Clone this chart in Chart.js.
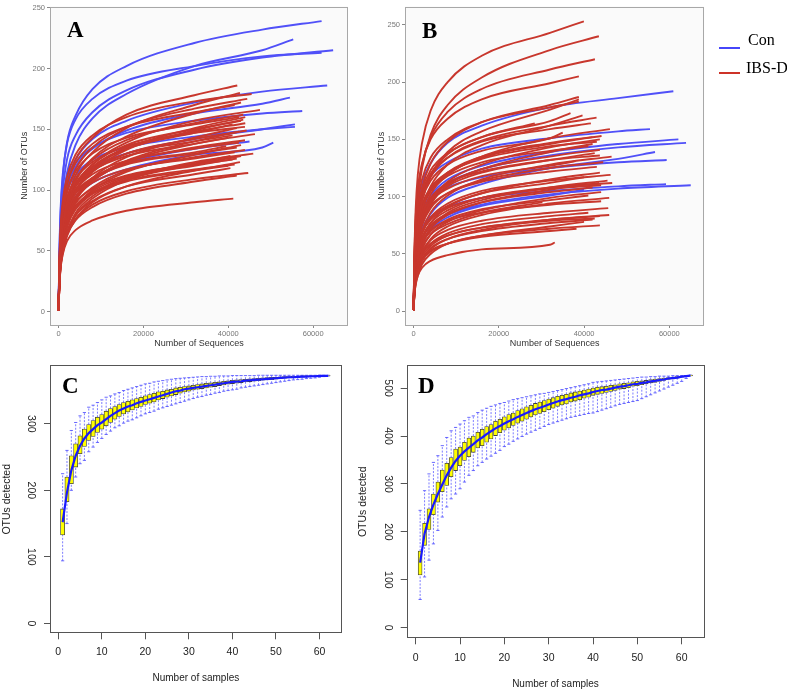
<!DOCTYPE html>
<html><head><meta charset="utf-8">
<script src="https://cdn.jsdelivr.net/npm/chart.js@4.4.1/dist/chart.umd.min.js"></script>
<style>
body{margin:0;background:#fff;}
#wrap{position:relative;width:787px;height:693px;overflow:hidden;background:#fff;}
canvas{position:absolute;}
.lab{position:absolute;font-family:"Liberation Serif","Times New Roman",serif;line-height:1;white-space:nowrap;color:#000;}
.leg{position:absolute;height:2px;width:21px;}
</style></head><body><div id="wrap">
<canvas id="cA" width="360" height="355" style="left:0;top:0"></canvas>
<canvas id="cB" width="360" height="355" style="left:360px;top:0"></canvas>
<canvas id="cC" width="390" height="338" style="left:0;top:355px"></canvas>
<canvas id="cD" width="437" height="338" style="left:350px;top:355px"></canvas>
<div class="lab" style="left:67px;top:17.5px;font-size:23px;font-weight:bold">A</div>
<div class="lab" style="left:422px;top:18.5px;font-size:23px;font-weight:bold">B</div>
<div class="lab" style="left:62px;top:373.5px;font-size:23px;font-weight:bold">C</div>
<div class="lab" style="left:418px;top:374px;font-size:23px;font-weight:bold">D</div>
<div class="leg" style="left:719px;top:47px;background:rgb(70,70,250)"></div>
<div class="lab" style="left:748px;top:31.6px;font-size:16px">Con</div>
<div class="leg" style="left:719px;top:72px;background:rgb(205,50,40)"></div>
<div class="lab" style="left:746px;top:59.6px;font-size:16px">IBS-D</div>
</div>
<script>
// ---------- Panel A / B data (rarefaction curves) ----------
// each curve: y read at the sequence depths in SEQ_GRID that lie below its end depth, then its end value
const SEQ_GRID = [0, 250, 500, 1000, 2000, 4000, 8000, 16000, 32000, 48000];
const SEQ_TICKS = [0, 20000, 40000, 60000];
const OTU_TICKS = [0, 50, 100, 150, 200, 250];

const A_con_endX = [61980, 55300, 64700, 61980, 63300, 54520, 57420, 55700, 55700, 50600, 45000];
const A_con_y = [
 [1,53,81,110,139,161,183,202,221,232,239],
 [1,43,65,90,114,137,159,179,202,215,224],
 [1,47,73,99,125,145,164,182,199,209,215],
 [1,55,85,113,138,158,175,190,202,210,213],
 [1,41,63,86,108,125,142,157,172,181,186],
 [1,39,60,81,102,119,134,149,163,171,176],
 [1,43,66,87,107,122,135,147,157,163,165],
 [1,34,52,71,89,104,118,130,142,150,154],
 [1,40,61,81,99,112,125,135,144,150,152],
 [1,31,47,64,81,94,106,117,129,135,139],
 [1,31,48,63,78,94,108,122,134,140]
];
const A_ibs_endX = [42120,42750,45500,44470,43000,41500,47460,43530,42500,43530,43000,44000,43930,42000,44330,46280,41000,43930,42500,43000,42000,43930,41500,45880,40500,42000,41000,42750,41500,40500,44700,41180,40000,42500,39500,44000,41000,43000,40000,42000];
const A_ibs_y = [
 [1,41,63,84,104,125,143,162,178,186],[1,34,52,70,90,112,131,151,170,180],[1,47,70,91,111,129,145,160,173,179],
 [1,39,60,79,98,117,135,152,167,175],[1,33,50,67,86,107,126,144,163,172],[1,44,66,87,105,122,138,152,164,170],
 [1,32,48,65,83,103,121,139,157,166],[1,36,55,73,91,109,125,141,155,162],[1,42,62,82,99,115,130,143,154,160],
 [1,30,46,62,79,98,115,133,149,158],[1,35,53,71,88,105,121,137,150,157],[1,34,53,70,87,104,119,135,148,155],
 [1,40,59,78,94,109,123,136,147,152],[1,29,44,59,76,94,110,127,143,151],[1,33,51,67,83,100,115,130,142,149],
 [1,28,42,57,73,91,107,123,138,146],[1,38,57,74,90,104,117,130,140,145],[1,31,48,63,79,94,109,123,135,141],
 [1,36,54,71,86,100,113,124,134,139],[1,26,40,53,69,85,100,115,129,137],[1,35,53,69,84,97,109,121,130,135],
 [1,29,45,60,74,89,102,116,127,133],[1,34,51,67,81,94,106,117,126,131],[1,25,38,51,65,81,95,109,123,130],
 [1,28,44,58,72,86,99,111,122,128],[1,28,43,57,71,84,97,110,120,126],[1,33,49,64,78,90,101,112,121,125],
 [1,23,36,48,62,76,90,103,116,123],[1,31,47,62,75,87,98,108,117,121],[1,26,40,53,66,79,91,103,113,118],
 [1,25,39,51,64,76,88,99,109,114],[1,24,36,47,58,67,75,83,90,93],[1,37,56,73,89,103,116,128,138,143],
 [1,28,43,58,74,92,108,124,140,148],[1,35,53,69,84,98,110,122,131,136],[1,30,46,62,80,99,117,134,151,160],
 [1,34,52,69,86,103,119,134,147,154],[1,24,37,50,64,79,93,108,121,128],[1,31,47,61,74,86,97,107,116,120],
 [1,25,38,50,63,75,86,97,107,112]
];
const B_con_endX = [60940, 55460, 62120, 63920, 56635, 59380, 59220, 65020, 40000];
const B_con_y = [
 [1,42,65,88,111,129,147,162,178,186,192],
 [1,41,64,84,103,118,130,142,151,157,159],
 [1,33,51,69,87,101,115,127,139,146,150],
 [1,32,50,68,85,99,112,124,136,143,147],
 [1,26,40,56,71,85,99,111,125,133,139],
 [1,34,53,70,86,98,108,117,125,130,132],
 [1,29,44,59,72,82,91,99,105,109,111],
 [1,24,37,51,64,74,84,93,102,107,110],
 [1,23,36,48,59,71,82,92,101,106]
];
const B_ibs_endX = [39950,43475,42540,38780,38780,38780,38780,36820,39640,28440,42930,41600,46060,44100,43700,43000,42000,41000,43710,46460,43710,42500,44490,43000,43710,46220,45500,46600,44000,42000,45900,30240,45670,45900,43700,42500,43710,38230,33140,40000,41000,44000,40000,38000,35000,42000,44000,41000,43500,42000];
const B_ibs_y = [
 [1,58,89,119,147,175,200,223,243,253],[1,48,72,96,125,154,180,204,228,240],[1,51,77,103,128,152,174,194,211,220],
 [1,55,82,107,129,150,168,185,199,205],[1,43,65,88,108,129,148,165,180,187],[1,37,56,74,96,118,139,157,176,185],
 [1,49,73,95,115,134,150,165,178,183],[1,40,61,81,100,119,137,152,166,173],[1,34,51,68,89,109,128,145,162,171],
 [1,46,67,87,106,123,138,152,164],[1,39,59,79,98,117,134,149,162,169],[1,44,66,85,103,120,134,148,159,164],
 [1,32,48,64,83,102,119,135,151,159],[1,35,54,72,89,106,121,135,147,153],[1,30,45,60,78,96,113,128,143,150],
 [1,40,59,77,93,108,121,133,144,148],[1,29,44,58,76,93,110,124,139,146],[1,39,58,75,91,105,118,130,140,144],
 [1,32,49,66,82,97,111,124,135,141],[1,27,41,54,70,86,101,115,128,135],[1,37,54,71,86,99,112,122,132,136],
 [1,32,48,65,80,95,109,121,132,138],[1,30,46,61,75,90,103,114,125,130],[1,34,50,66,79,92,103,113,122,126],
 [1,24,36,48,63,77,91,103,115,121],[1,27,42,56,69,82,94,105,114,119],[1,23,34,46,59,73,86,97,108,114],
 [1,26,39,53,65,77,88,99,108,112],[1,30,44,57,69,80,90,99,107,110],[1,25,38,51,63,75,85,95,104,108],
 [1,20,30,40,51,63,74,84,94,99],[1,23,34,46,56,67,76,86,95],[1,21,32,42,52,62,71,79,86,90],
 [1,17,25,34,44,54,63,71,80,84],[1,19,29,39,48,57,66,73,80,83],[1,22,32,42,51,59,66,73,79,81],
 [1,17,26,35,44,52,59,66,72,75],[1,19,29,37,45,53,59,65,70,72],[1,16,24,31,38,44,49,54,58,60],
 [1,16,23,31,41,50,59,66,74,78],[1,20,30,40,50,59,68,76,83,86],[1,21,31,42,54,67,78,88,99,104],
 [1,27,41,55,68,81,92,103,112,117],[1,35,52,68,83,96,107,118,127,131],[1,42,62,81,98,114,128,140,151,156],
 [1,18,28,38,46,55,63,70,77,80],[1,26,38,50,60,70,79,86,93,96],[1,23,35,47,59,70,80,89,97,101],
 [1,22,34,45,58,72,84,95,106,112],[1,35,53,71,88,105,120,134,146,152]
];

// ---------- Panel C / D data (boxplots) ----------
const SAMPLES = [1,2,3,4,5,6,7,8,9,10,11,12,13,14,15,16,17,18,19,20,21,22,23,24,25,26,27,28,29,30,31,32,33,34,35,36,37,38,39,40,41,42,43,44,45,46,47,48,49,50,51,52,53,54,55,56,57,58,59,60,61,62];
const SAMPLE_TICKS = [0,10,20,30,40,50,60];
const C_TICKS = [0,100,200,300];
const D_TICKS = [0,100,200,300,400,500];
const C_med = [152,197,230,252,267,278,286,292,298,302,307,312,316,320,323,326,328,331,333,335,337,339,341,343,345,347,349,350,352,353,354,355,356,357,358,359,360,361,362,363,363.5,364,365,365.5,366,366.5,367,367.5,368,368.5,369,369.5,370,370,370.5,371,371,371.5,371.5,372,372,372];
const C_q1 = [133,183,210,235,255,266,275,281,287,292,297,302,307,311,315,318,321,324,326,329,331,333,336,338,340,342,344,346,348,349,351,352,353,354,355,356,357.5,358.5,359.5,360.5,361,362,363,363.5,364,365,365.5,366,366.5,367,368,368.5,369,369,369.5,370,370.5,371,371,371.5,371.5,372];
const C_q3 = [172,220,252,270,282,292,299,305,310,314,319,323,326,329,332,334,336,338,340,342,344,346,348,349,351,352,354,355,356,357,358,359,360,361,361.5,362.5,363,364,364.5,365.5,366,366.5,367,367.5,368,368.5,369,369.5,370,370,370.5,371,371,371.5,371.5,372,372,372,372,372.5,372.5,372.5];
const C_lo = [94,150,200,220,240,245,258,265,272,278,284,289,294,297,301,304,306,309,312,315,317,319,322,324,326,328,330,332,334,336,338,340,341,343,344,346,347,349,350,351,352,354,355,356,357,358,359,360,361,362,363,364,365,366,366.5,367,368,368.5,369,370,371,372];
const C_hi = [225,260,290,302,312,317,325,328,332,336,340,342,345,347,350,352,354,356,358,360,361,363,364,365,366,367,368,368.5,369,369.5,370,370.5,371,371,371.5,371.5,372,372,372,372.5,372.5,372.5,372.5,372.5,372.5,373,373,373,373,373,373,373,373,373,373,373,373,373,373,373,373,373];
const D_med = [136,196,231,257,279,299,318,334,348,359,368,376,383,391,397,404,410,416,421,426,431,435,440,444,448,452,456,459,462,466,469,472,475,477,480,482,485,487,489,492,494,496,497,499,501,503,504,506,508,509,511,512,514,515,517,518,520,521,522,524,525,526];
const D_q1 = [110,172,205,236,262,284,297,315,328,338,349,357,366,375,380,387,394,401,407,412,417,422,427,431,435,440,444,447,451,455,458,462,465,467,471,473,476,479,481,485,487,489,491,493,495,498,499,501,504,505,507,509,511,512,514,516,518,519,521,523,524,526];
const D_q3 = [160,218,248,279,304,329,343,355,373,377,387,396,400,408,414,420,424,431,435,440,445,448,453,457,461,464,468,471,474,477,480,483,485,487,490,492,494,496,498,500,502,503,504,506,507,509,510,511,513,514,515,516,518,519,520,521,522,523,524,525,526,527];
const D_lo = [59,106,141,175,203,231,252,269,279,290,304,318,328,338,345,352,358,364,370,378,383,389,394,399,404,408,412,416,420,424,427,430,433,436,439,441,443,445,447,448,451,454,457,460,463,466,468,470,472,474,478,482,486,490,494,498,502,506,510,514,520,526];
const D_hi = [245,286,321,345,359,380,397,411,418,425,432,439,442,449,454,458,462,465,468,470,473,476,478,480,482,484,486,488,489,491,493,495,497,499,501,503,505,507,509,512,513,514,515,516,517,518,519,520,521,522,523,523,524,524,525,525,525,526,526,526,526,527];

// ---------- helpers ----------
const BLUE = 'rgb(80,80,248)';
const RED = 'rgb(200,55,45)';
Chart.defaults.font.family = '"Liberation Sans", Arial, sans-serif';
Chart.defaults.animation = false;

function curvePoints(endX, ys) {
  const out = [];
  let i = 0;
  for (; i < SEQ_GRID.length && SEQ_GRID[i] < endX; i++) out.push({x: SEQ_GRID[i], y: ys[i]});
  out.push({x: endX, y: ys[i]});
  return out;
}
function frame(color, fill) {
  return {
    id: 'frame',
    beforeDraw(c) {
      if (!fill) return;
      const a = c.chartArea, ctx = c.ctx;
      ctx.save(); ctx.fillStyle = fill; ctx.fillRect(a.left, a.top, a.right - a.left, a.bottom - a.top); ctx.restore();
    },
    afterDraw(c) {
      const a = c.chartArea, ctx = c.ctx;
      ctx.save(); ctx.strokeStyle = color; ctx.lineWidth = 1;
      ctx.strokeRect(Math.round(a.left) + 0.5, Math.round(a.top) + 0.5, Math.round(a.right - a.left) - 1, Math.round(a.bottom - a.top) - 1);
      ctx.restore();
    }
  };
}
function seqChart(id, conX, conY, ibsX, ibsY, cfg) {
  const ds = [];
  ibsX.forEach((x, i) => ds.push({data: curvePoints(x, ibsY[i]), borderColor: RED, borderWidth: 1.9, pointRadius: 0, cubicInterpolationMode: 'monotone', fill: false}));
  conX.forEach((x, i) => ds.push({data: curvePoints(x, conY[i]), borderColor: BLUE, borderWidth: 1.9, pointRadius: 0, cubicInterpolationMode: 'monotone', fill: false}));
  new Chart(document.getElementById(id), {
    type: 'line',
    data: {datasets: ds},
    options: {
      responsive: false, animation: false, events: [],
      layout: {padding: {left: 0, top: 5, right: cfg.right, bottom: 0}},
      plugins: {legend: {display: false}, tooltip: {enabled: false}},
      scales: {
        x: {type: 'linear', min: -2000, max: 68200,
          afterBuildTicks: s => { s.ticks = SEQ_TICKS.map(v => ({value: v})); },
          afterFit: s => { s.height = 30; },
          grid: {drawOnChartArea: false, drawTicks: true, tickLength: 3, color: '#888'},
          border: {display: false},
          ticks: {font: {size: 7.5}, color: '#777', padding: 1, maxRotation: 0, autoSkip: false, callback: v => String(v)},
          title: {display: true, text: 'Number of Sequences', font: {size: 9}, color: '#333', padding: {top: 0, bottom: 5.6}}},
        y: {type: 'linear', min: cfg.ymin, max: cfg.ymax,
          afterBuildTicks: s => { s.ticks = OTU_TICKS.map(v => ({value: v})); },
          afterFit: s => { s.width = cfg.yw; },
          grid: {drawOnChartArea: false, drawTicks: true, tickLength: 3, color: '#888'},
          border: {display: false},
          ticks: {font: {size: 7.5}, color: '#777', padding: 2, autoSkip: false, callback: v => String(v)},
          title: {display: true, text: 'Number of OTUs', font: {size: 9}, color: '#333', padding: {top: cfg.ytp, bottom: 0}}}
      }
    },
    plugins: [frame('#a8a8a8', '#fafafa')]
  });
}
function boxChart(id, med, q1, q3, lo, hi, yTicks, cfg) {
  const boxes = SAMPLES.map((x, i) => ({x: x, y: [q1[i], q3[i]]}));
  const whisk = [];
  SAMPLES.forEach((x, i) => { whisk.push({x: x, y: lo[i]}, {x: x, y: q1[i]}, {x: x, y: null}, {x: x, y: q3[i]}, {x: x, y: hi[i]}, {x: x, y: null}); });
  const caps = [];
  SAMPLES.forEach((x, i) => { caps.push({x: x, y: lo[i]}, {x: x, y: hi[i]}); });
  const meds = SAMPLES.map((x, i) => ({x: x, y: med[i]}));
  new Chart(document.getElementById(id), {
    type: 'bar',
    data: {datasets: [
      {type: 'line', data: whisk, borderColor: 'rgba(70,70,255,0.7)', borderWidth: 1, borderDash: [2, 1.5], pointRadius: 0, spanGaps: false, tension: 0, order: 4},
      {type: 'scatter', data: caps, pointStyle: 'line', radius: 1.6, borderColor: 'rgba(70,70,255,0.8)', borderWidth: 1, order: 3},
      {type: 'bar', data: boxes, backgroundColor: '#ffff00', borderColor: '#404040', borderWidth: 0.8, borderSkipped: false, barThickness: cfg.bw, order: 2},
      {type: 'line', data: meds, borderColor: 'rgb(25,25,255)', borderWidth: 2.2, pointRadius: 0, tension: 0, order: 1}
    ]},
    options: {
      responsive: false, animation: false, events: [],
      layout: {padding: {left: 0, top: cfg.top, right: cfg.right, bottom: 0}},
      plugins: {legend: {display: false}, tooltip: {enabled: false}},
      scales: {
        x: {type: 'linear', min: cfg.xmin, max: cfg.xmax, offset: false,
          afterBuildTicks: s => { s.ticks = SAMPLE_TICKS.map(v => ({value: v})); },
          afterFit: s => { s.height = cfg.xh; },
          grid: {drawOnChartArea: false, drawTicks: true, tickLength: 6, color: '#555', offset: false},
          border: {display: false},
          ticks: {font: {size: 10.5}, color: '#222', padding: cfg.xpad, maxRotation: 0, autoSkip: false, callback: v => String(v)},
          title: {display: true, text: 'Number of samples', font: {size: 10}, color: '#222', padding: {top: 0, bottom: cfg.xtp}}},
        y: {type: 'linear', min: cfg.ymin, max: cfg.ymax,
          afterBuildTicks: s => { s.ticks = yTicks.map(v => ({value: v})); },
          afterFit: s => { s.width = cfg.yw; },
          grid: {drawOnChartArea: false, drawTicks: true, tickLength: 6, color: '#555'},
          border: {display: false},
          ticks: {font: {size: 10.5}, color: '#222', padding: 4, minRotation: -90, maxRotation: -90, crossAlign: 'center', autoSkip: false, callback: v => String(v)},
          title: {display: true, text: 'OTUs detected', font: {size: 10.5}, color: '#222', padding: {top: cfg.ytp, bottom: 0}}}
      }
    },
    plugins: [frame('#555', null)]
  });
}

seqChart('cA', A_con_endX, A_con_y, A_ibs_endX, A_ibs_y, {right: 12, yw: 50, ymin: -11, ymax: 251, ytp: 19.6});
seqChart('cB', B_con_endX, B_con_y, B_ibs_endX, B_ibs_y, {right: 15.7, yw: 45, ymin: -12, ymax: 266, ytp: 16.3});
boxChart('cC', C_med, C_q1, C_q3, C_lo, C_hi, C_TICKS, {top: 9.3, right: 48.3, yw: 50, xh: 59.7, xmin: -1.9, xmax: 65.1, ymin: -15, ymax: 388, xpad: 7, xtp: 9, ytp: 0.7, bw: 4.2});
boxChart('cD', D_med, D_q1, D_q3, D_lo, D_hi, D_TICKS, {top: 9.3, right: 82.7, yw: 56.7, xh: 54.7, xmin: -2.03, xmax: 65.1, ymin: -22, ymax: 547.6, xpad: 8, xtp: 3, ytp: 6.7, bw: 3.9});
</script>
</body></html>
